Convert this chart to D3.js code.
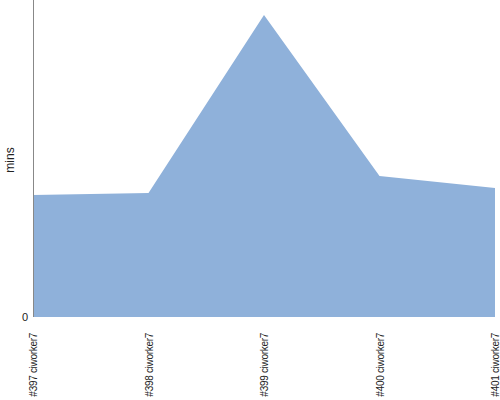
<!DOCTYPE html>
<html><head><meta charset="utf-8">
<script src="https://cdn.jsdelivr.net/npm/d3@7"></script>
<style>body{margin:0;background:#fff}svg{display:block}</style>
</head><body>
<script>
const categories = ["#397 ciworker7","#398 ciworker7","#399 ciworker7","#400 ciworker7","#401 ciworker7"];
const values = [12.2, 12.4, 30.2, 14.1, 12.9];
const yTicks = [0];
const yLabel = "mins";

const W = 500, H = 400;
const m = {left: 33, right: 5, top: 0, bottom: 83};
const svg = d3.select("body").append("svg").attr("width", W).attr("height", H);
const x = d3.scalePoint().domain(categories).range([m.left, W - m.right]);
const y = d3.scaleLinear().domain([0, 31.7]).range([H - m.bottom, m.top]);

const data = categories.map((c, i) => ({c, v: values[i]}));
svg.append("path").datum(data)
  .attr("fill", "#8fb1da")
  .attr("d", d3.area().x(d => x(d.c)).y0(y(0)).y1(d => y(d.v)));

svg.append("line").attr("x1", m.left + 0.5).attr("x2", m.left + 0.5)
  .attr("y1", 0).attr("y2", y(0)).attr("stroke", "#888").attr("stroke-width", 1);

svg.selectAll(".yt").data(yTicks).enter().append("text")
  .attr("x", m.left - 5).attr("y", d => y(d)).attr("dy", "0.35em")
  .attr("text-anchor", "end").attr("font-family", "Liberation Sans, Arial, sans-serif")
  .attr("font-size", 11).attr("fill", "#222").text(d => d);

svg.append("text").attr("transform", `translate(14,${160}) rotate(-90)`)
  .attr("text-anchor", "middle").attr("font-family", "Liberation Sans, Arial, sans-serif")
  .attr("font-size", 12).attr("fill", "#222").text(yLabel);

svg.selectAll(".xt").data(categories).enter().append("text")
  .attr("transform", d => `translate(${x(d) + 4},${333}) rotate(-90)`)
  .attr("text-anchor", "end").attr("font-family", "Liberation Sans, Arial, sans-serif")
  .attr("font-size", 10).attr("letter-spacing", -0.3).attr("fill", "#222").text(d => d);
</script>
</body></html>
